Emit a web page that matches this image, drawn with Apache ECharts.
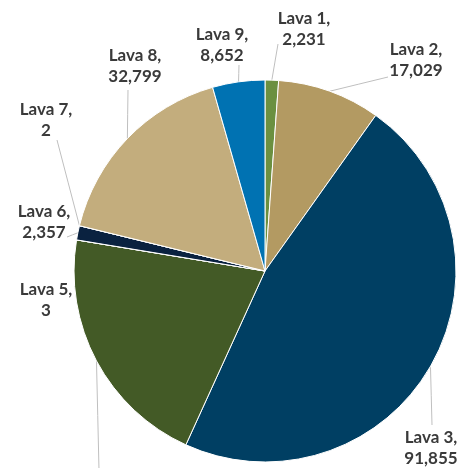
<!DOCTYPE html>
<html><head><meta charset="utf-8">
<script src="https://cdn.jsdelivr.net/npm/echarts@6/dist/echarts.min.js"></script>
<style>html,body{margin:0;padding:0;background:#fff}#c{width:464px;height:468px}</style>
</head><body><div id="c"></div>
<script>
var categories = ['Lava 1','Lava 2','Lava 3','Lava 4','Lava 5','Lava 6','Lava 7','Lava 8','Lava 9'];
var values = [2231, 17029, 91855, 40700, 3, 2357, 2, 32799, 8652];
var colors = ['#6B9040','#B39A62','#003F63','#435A26','#435A26','#0A2240','#C3AD7D','#C3AD7D','#0072B2'];
// label placement (layout only)
var labelPos = [
  {x:304, y:29, lx:278, ly:44},
  {x:416, y:60, lx:388, ly:77},
  {x:431, y:448, lx:432, ly:425},
  {x:100, y:495, lx:99, ly:470},
  {x:46, y:300},
  {x:44, y:222, lx:67, ly:237},
  {x:46, y:120, lx:57, ly:140},
  {x:135, y:66, lx:128, ly:90},
  {x:222, y:45, lx:239, ly:65}
];
function fmt(v){return v.toString().replace(/\B(?=(\d{3})+(?!\d))/g, ',');}
var data = categories.map(function(c,i){
  var d = {name:c, value:values[i], itemStyle:{color:colors[i]}};
  if(!labelPos[i].lx) d.labelLine = {show:false};
  return d;
});
var chart = echarts.init(document.getElementById('c'));
chart.setOption({
  animation:false,
  series:[{
    type:'pie',
    center:[265,271],
    radius:[0,191],
    startAngle:90,
    clockwise:true,
    avoidLabelOverlap:false,
    data:data,
    itemStyle:{borderColor:'#fff', borderWidth:1},
    label:{
      show:true,
      formatter:function(p){return p.name+',\n'+fmt(p.value);},
      fontFamily:'Lato',
      fontWeight:'bold',
      fontSize:17,
      lineHeight:21,
      color:'#3A3A3A',
      align:'center'
    },
    labelLine:{show:true, length:10, length2:10, lineStyle:{color:'#BFBFBF', width:1}},
    labelLayout:function(p){
      var L = labelPos[p.dataIndex];
      var out = {x:L.x, y:L.y, align:'center', verticalAlign:'middle'};
      if(L.lx && p.labelLinePoints){
        var e = p.labelLinePoints[0];
        out.labelLinePoints = [[e[0],e[1]],[(e[0]+L.lx)/2,(e[1]+L.ly)/2],[L.lx,L.ly]];
      }
      return out;
    }
  }]
});
</script></body></html>
